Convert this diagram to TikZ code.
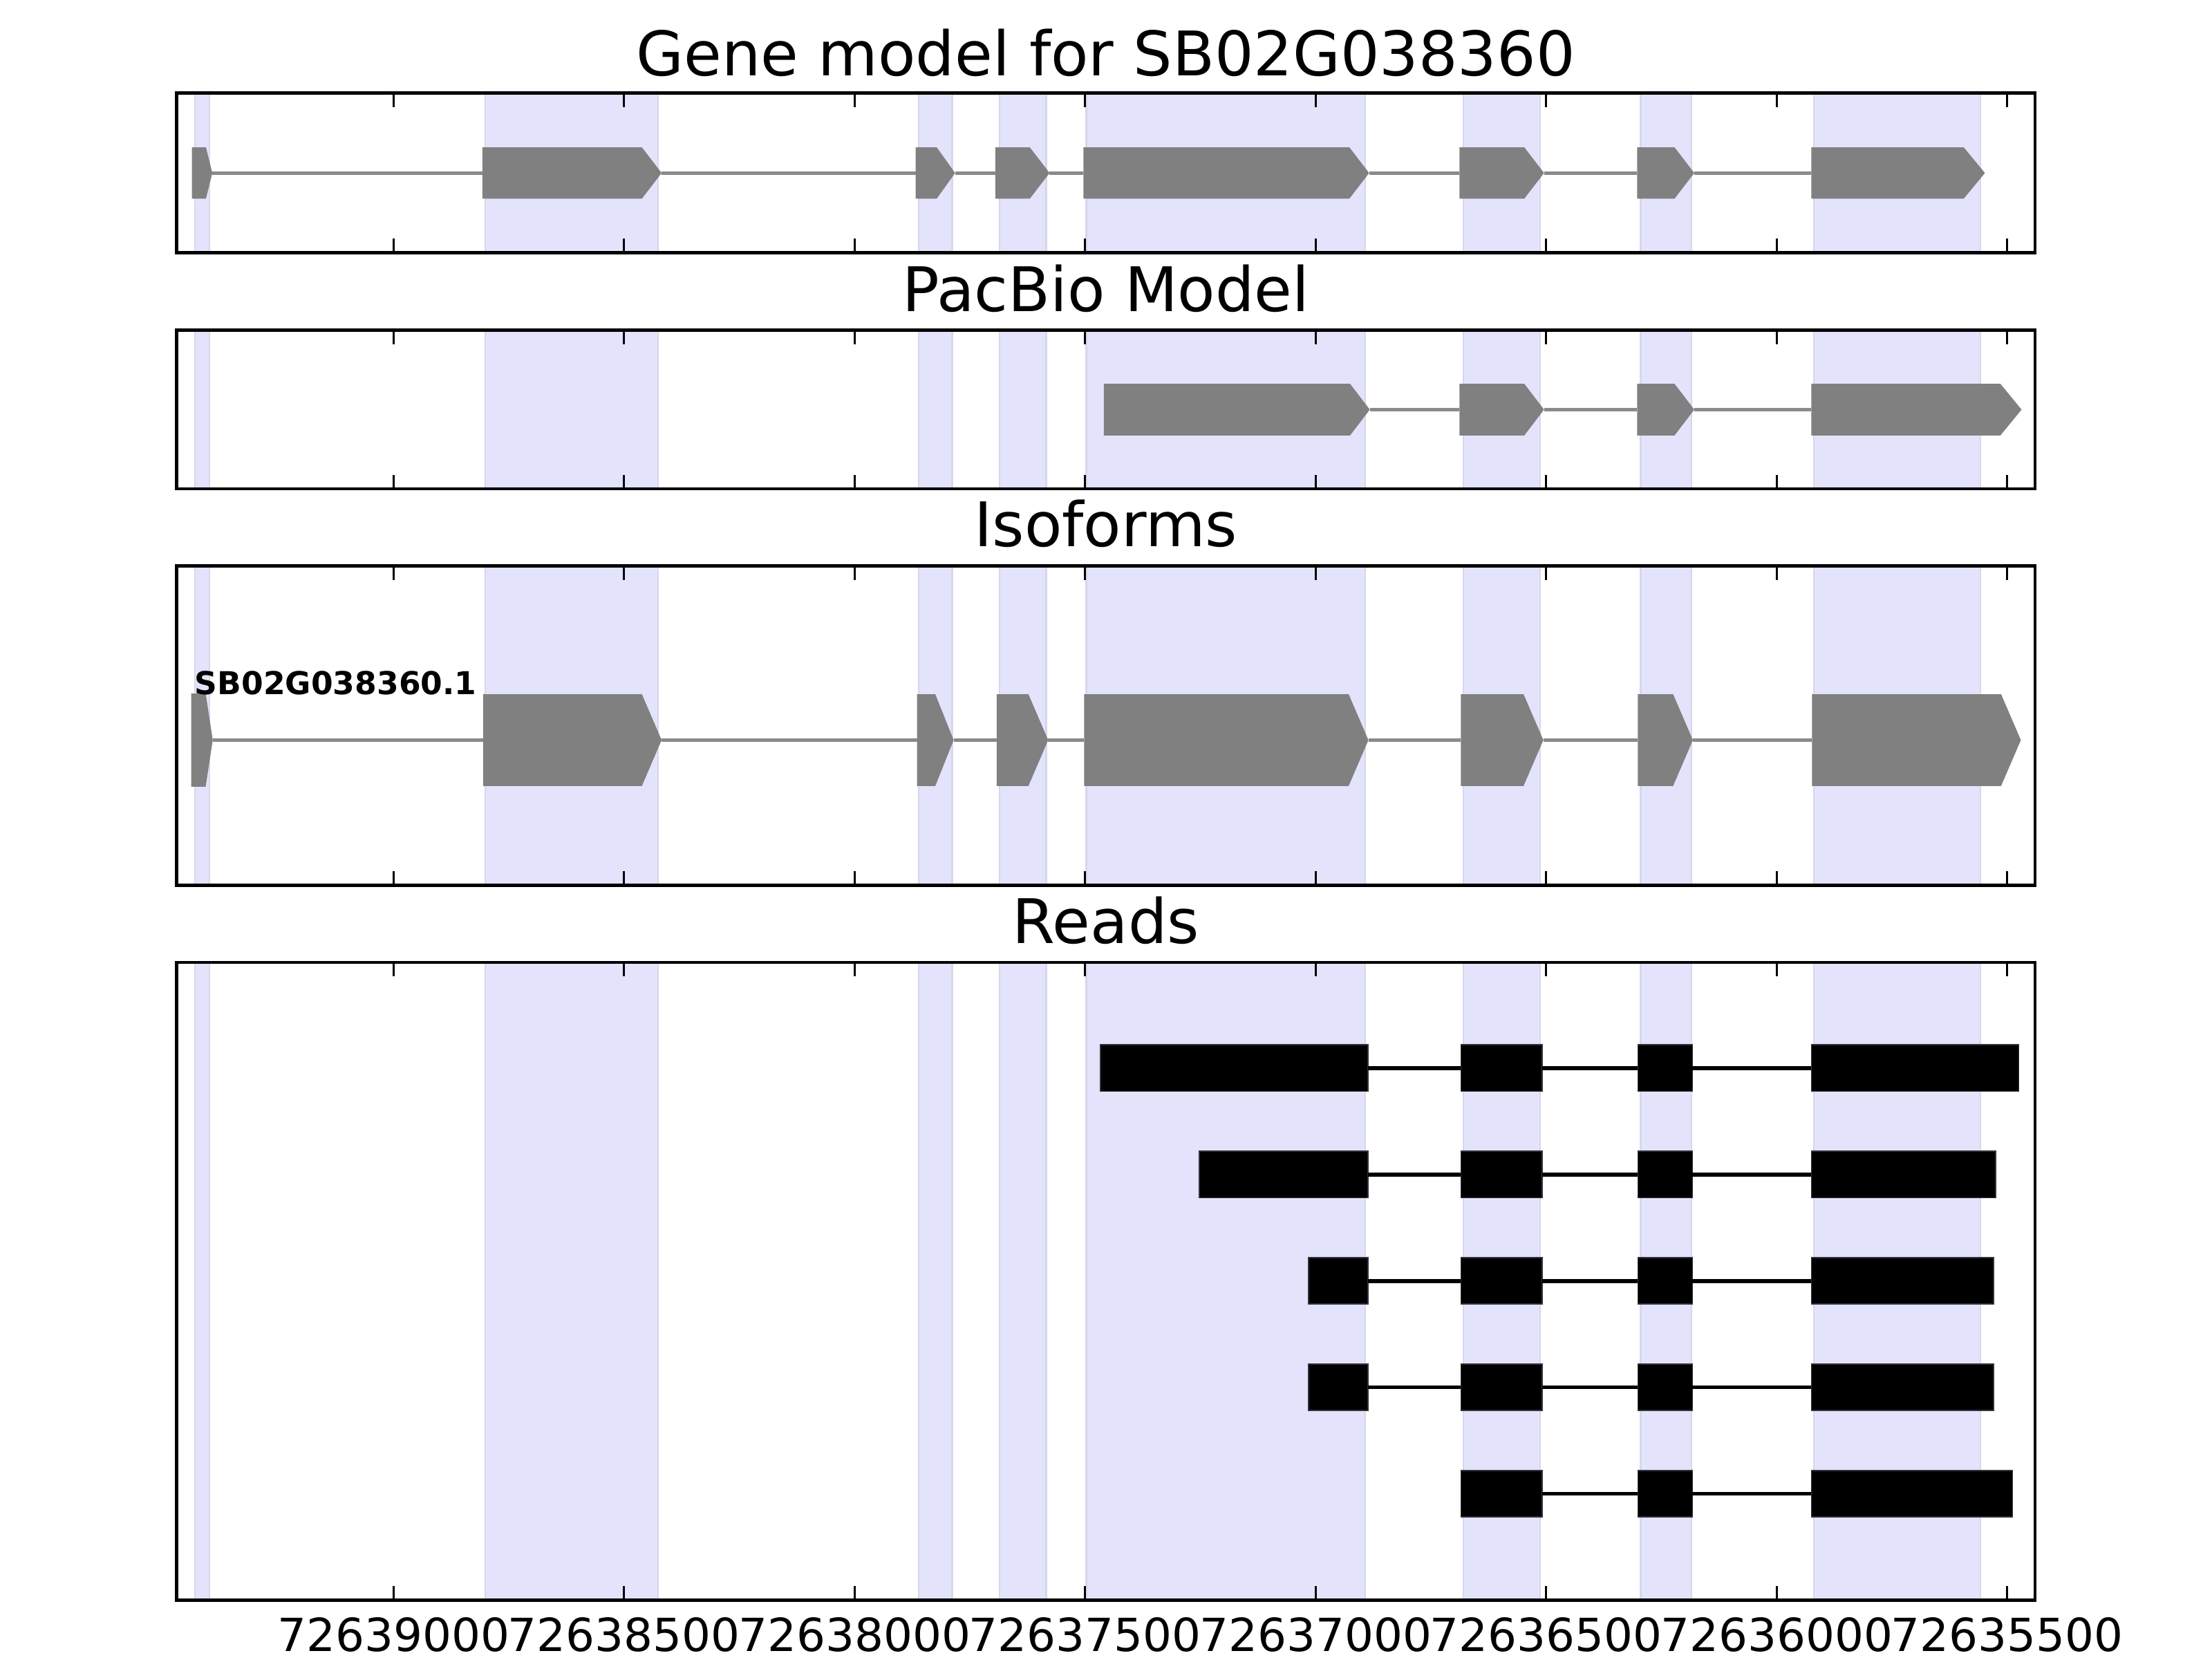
\documentclass[tikz,border=0pt]{standalone}
\usepackage{fontspec}
\setmainfont{DejaVu Sans}

\definecolor{band}{RGB}{227,227,252}
\definecolor{bandedge}{RGB}{214,214,236}
\definecolor{exongray}{RGB}{128,128,128}
\definecolor{introngray}{RGB}{138,138,138}

% arrow exon: name, start, end, centre, half height, head
\newcommand{\exon}[6]{%
	\fill[exongray] (#2,#4-#5) -- (#3-#6,#4-#5) -- (#3,#4) -- (#3-#6,#4+#5) -- (#2,#4+#5) -- cycle;
	\coordinate (#1a) at (#2,#4);
	\coordinate (#1b) at (#3,#4);
}
% read block: name, start, end, centre
\newcommand{\readblock}[4]{%
	\draw[readbox] (#2,#4-16.5) rectangle (#3,#4+16.5);
	\coordinate (#1a) at (#2,#4);
	\coordinate (#1b) at (#3,#4);
}

\begin{document}
\begin{tikzpicture}[x=0.2mm, y=-0.2mm]
			\tikzstyle{every node}=[inner sep=0pt, align=center]
			\tikzstyle{title}=[anchor=base, font=\fontsize{24.8}{30}\selectfont]
			\tikzstyle{ticklab}=[anchor=base, font=\fontsize{18.4}{22}\selectfont]
			\tikzstyle{isolabel}=[anchor=base west, font=\bfseries\fontsize{12.7}{15}\selectfont]
			\tikzstyle{frame}=[line width=1.25pt]
			\tikzstyle{tick}=[line width=0.85pt]
			\tikzstyle{intron}=[introngray, line width=1.5pt]
			\tikzstyle{readline}=[black, line width=1.6pt]
			\tikzstyle{readbox}=[fill=black, draw={rgb,255:red,50;green,50;blue,60}, line width=0.5pt]
			\useasboundingbox (0,0) rectangle (1568,1176);
			% exon bands in every panel
			\foreach \t/\u in {66/179, 234/346.5, 401/627.4, 682/1134}
				\foreach \a/\b in {138/148.5, 344/466.6, 651/675, 708.7/741.6, 770/967.6, 1037.5/1091.5, 1163/1199, 1285.6/1403.7}
					\filldraw[fill=band, draw=bandedge, line width=0.6pt] (\a,\t) rectangle (\b,\u);
			% titles
			\node[title] (T1) at (783.9,53.5) {Gene model for SB02G038360};
			\node[title] (T2) at (783.9,220.5) {PacBio Model};
			\node[title] (T3) at (783.9,387.5) {Isoforms};
			\node[title] (T4) at (783.9,668.5) {Reads};
			% gene model
			\exon{G1}{136}{150.5}{122.6}{18.2}{4.5}
			\exon{G2}{342}{469}{122.6}{18.2}{14}
			\exon{G3}{649}{677}{122.6}{18.2}{13}
			\exon{G4}{705.5}{744}{122.6}{18.2}{14}
			\exon{G5}{768}{970.5}{122.6}{18.2}{14}
			\exon{G6}{1034.6}{1094.5}{122.6}{18.2}{14}
			\exon{G7}{1160.5}{1201}{122.6}{18.2}{14}
			\exon{G8}{1284}{1407}{122.6}{18.2}{15}
			\draw[intron] (G1b) -- (G2a);
			\draw[intron] (G2b) -- (G3a);
			\draw[intron] (G3b) -- (G4a);
			\draw[intron] (G4b) -- (G5a);
			\draw[intron] (G5b) -- (G6a);
			\draw[intron] (G6b) -- (G7a);
			\draw[intron] (G7b) -- (G8a);
			% pacbio model
			\exon{P1}{782.5}{971}{290.3}{18.3}{14}
			\exon{P2}{1034.6}{1094.5}{290.3}{18.3}{14}
			\exon{P3}{1160.5}{1201}{290.3}{18.3}{14}
			\exon{P4}{1284}{1433}{290.3}{18.3}{15}
			\draw[intron] (P1b) -- (P2a);
			\draw[intron] (P2b) -- (P3a);
			\draw[intron] (P3b) -- (P4a);
			% isoforms
			\exon{I1}{135.6}{150.8}{524.5}{33}{5}
			\exon{I2}{342.5}{469}{524.5}{32.5}{14}
			\exon{I3}{650}{676}{524.5}{32.5}{13}
			\exon{I4}{706.5}{743}{524.5}{32.5}{14}
			\exon{I5}{768.5}{970}{524.5}{32.5}{14}
			\exon{I6}{1035.5}{1094}{524.5}{32.5}{14}
			\exon{I7}{1161}{1200}{524.5}{32.5}{14}
			\exon{I8}{1284.5}{1432.5}{524.5}{32.5}{14}
			\draw[intron] (I1b) -- (I2a);
			\draw[intron] (I2b) -- (I3a);
			\draw[intron] (I3b) -- (I4a);
			\draw[intron] (I4b) -- (I5a);
			\draw[intron] (I5b) -- (I6a);
			\draw[intron] (I6b) -- (I7a);
			\draw[intron] (I7b) -- (I8a);
			\node[isolabel] (N1) at (137.8,492) {SB02G038360.1};
			% reads
			\readblock{A1}{780}{969.6}{757}
			\readblock{A2}{1035.6}{1093}{757}
			\readblock{A3}{1161}{1199.7}{757}
			\readblock{A4}{1284}{1431}{757}
			\draw[readline] (A1b) -- (A2a);
			\draw[readline] (A2b) -- (A3a);
			\draw[readline] (A3b) -- (A4a);
			\readblock{B1}{850}{969.6}{832.4}
			\readblock{B2}{1035.6}{1093}{832.4}
			\readblock{B3}{1161}{1199.7}{832.4}
			\readblock{B4}{1284}{1414.7}{832.4}
			\draw[readline] (B1b) -- (B2a);
			\draw[readline] (B2b) -- (B3a);
			\draw[readline] (B3b) -- (B4a);
			\readblock{C1}{927.7}{969.6}{907.8}
			\readblock{C2}{1035.6}{1093}{907.8}
			\readblock{C3}{1161}{1199.7}{907.8}
			\readblock{C4}{1284}{1413}{907.8}
			\draw[readline] (C1b) -- (C2a);
			\draw[readline] (C2b) -- (C3a);
			\draw[readline] (C3b) -- (C4a);
			\readblock{D1}{927.7}{969.6}{983.2}
			\readblock{D2}{1035.6}{1093}{983.2}
			\readblock{D3}{1161}{1199.7}{983.2}
			\readblock{D4}{1284}{1413}{983.2}
			\draw[readline] (D1b) -- (D2a);
			\draw[readline] (D2b) -- (D3a);
			\draw[readline] (D3b) -- (D4a);
			\readblock{E2}{1035.6}{1093}{1058.6}
			\readblock{E3}{1161}{1199.7}{1058.6}
			\readblock{E4}{1284}{1426.6}{1058.6}
			\draw[readline] (E2b) -- (E3a);
			\draw[readline] (E3b) -- (E4a);
			% frames and ticks
			\foreach \t/\u in {66/179, 234/346.5, 401/627.4, 682/1134} {
				\draw[frame] (125.3,\t) rectangle (1442.5,\u);
				\foreach \x in {279,442.4,605.8,769.2,932.6,1096,1259.4,1422.8} {
					\draw[tick] (\x,\t) -- (\x,\t+10);
					\draw[tick] (\x,\u) -- (\x,\u-10);
				}
			}
			% axis labels
			\node[ticklab] (L1) at (279,1170.5) {72639000};
			\node[ticklab] (L2) at (442.4,1170.5) {72638500};
			\node[ticklab] (L3) at (605.8,1170.5) {72638000};
			\node[ticklab] (L4) at (769.2,1170.5) {72637500};
			\node[ticklab] (L5) at (932.6,1170.5) {72637000};
			\node[ticklab] (L6) at (1096,1170.5) {72636500};
			\node[ticklab] (L7) at (1259.4,1170.5) {72636000};
			\node[ticklab] (L8) at (1422.8,1170.5) {72635500};
	\end{tikzpicture}
\end{document}
